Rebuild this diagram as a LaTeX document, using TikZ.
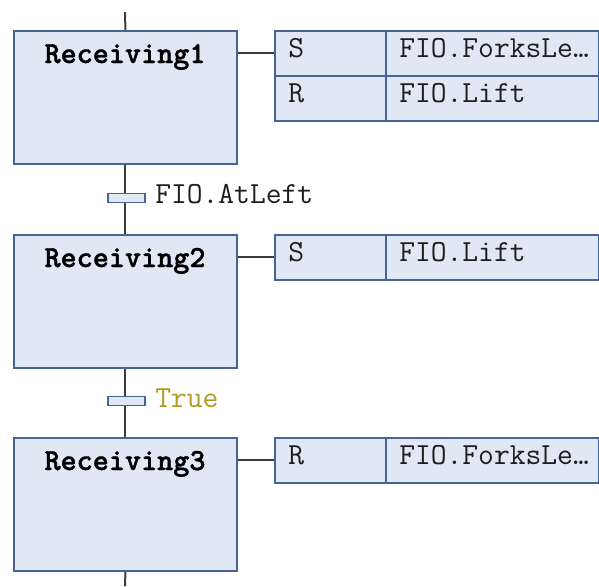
\documentclass[tikz,border=0pt]{standalone}
\usepackage{fontspec}
\newfontfamily\stepfont{lmmonolt10-bold.otf}[FakeBold=1.2]
\definecolor{sfcfill}{RGB}{225,232,245}
\definecolor{sfcblue}{RGB}{72,100,150}
\definecolor{linegray}{RGB}{60,60,60}
\definecolor{truecol}{RGB}{176,156,36}
\definecolor{txtcol}{RGB}{30,30,30}
\begin{document}
\begin{tikzpicture}[x=0.75pt,y=-0.75pt]
\tikzset{
  sfcline/.style={draw=linegray, line width=1.5pt},
  stepbox/.style={rectangle, draw=sfcblue, fill=sfcfill, line width=1.4pt,
    anchor=north west, inner sep=0pt, minimum width=167.25pt, minimum height=99.75pt},
  qualcell/.style={rectangle, draw=sfcblue, fill=sfcfill, line width=1.2pt,
    anchor=north west, inner sep=0pt, minimum width=83.25pt, minimum height=33.75pt},
  actcell/.style={rectangle, draw=sfcblue, fill=sfcfill, line width=1.2pt,
    anchor=north west, inner sep=0pt, minimum width=159.75pt, minimum height=33.75pt},
  transbar/.style={rectangle, draw=sfcblue, fill=sfcfill, line width=1.2pt,
    inner sep=0pt, minimum width=27.75pt, minimum height=6.75pt},
  stepname/.style={anchor=base, inner sep=0pt, text=black,
    font=\stepfont\fontsize{23}{27}\selectfont},
  celltext/.style={anchor=base west, inner sep=0pt, text=txtcol,
    font=\ttfamily\fontsize{23}{27}\selectfont},
}
\useasboundingbox (0,0) rectangle (599,586);

% steps
\node[stepbox] (r1) at (13,30) {};
\node[stepbox] (r2) at (13,234) {};
\node[stepbox] (r3) at (13,437) {};
\node[stepname] (n1) at (125,63) {Receiving1};
\node[stepname] (n2) at (125,267) {Receiving2};
\node[stepname] (n3) at (125,470) {Receiving3};

% transitions
\coordinate (in) at (125,12);
\coordinate (out) at (125,586);
\node[transbar] (t1) at (126.5,198) {};
\node[transbar] (t2) at (126.5,401) {};
\node[celltext] (c1) at (155,203) {FIO.AtLeft};
\node[celltext, text=truecol] (c2) at (155,407) {True};

% action tables
\node[qualcell] (a1q1) at (274,30) {};
\node[actcell]  (a1a1) at (385,30) {};
\node[qualcell] (a1q2) at (274,75) {};
\node[actcell]  (a1a2) at (385,75) {};
\node[qualcell] (a2q1) at (274,234) {};
\node[actcell]  (a2a1) at (385,234) {};
\node[qualcell] (a3q1) at (274,437) {};
\node[actcell]  (a3a1) at (385,437) {};

\node[celltext] (q11) at (288,57.5) {S};
\node[celltext] (v11) at (399,57.5) {FIO.ForksLe…};
\node[celltext] (q12) at (288,102.5) {R};
\node[celltext] (v12) at (399,102.5) {FIO.Lift};
\node[celltext] (q21) at (288,261.5) {S};
\node[celltext] (v21) at (399,261.5) {FIO.Lift};
\node[celltext] (q31) at (288,464.5) {R};
\node[celltext] (v31) at (399,464.5) {FIO.ForksLe…};

% sequence line
\draw[sfcline] (in) -- (r1.north);
\draw[sfcline] (r1.south) -- (t1.north -| r1.south);
\draw[sfcline] (t1.south -| r1.south) -- (r2.north);
\draw[sfcline] (r2.south) -- (t2.north -| r2.south);
\draw[sfcline] (t2.south -| r2.south) -- (r3.north);
\draw[sfcline] (r3.south) -- (out);

% step to action links
\draw[sfcline] (r1.east |- a1q1.west) -- (a1q1.west);
\draw[sfcline] (r2.east |- a2q1.west) -- (a2q1.west);
\draw[sfcline] (r3.east |- a3q1.west) -- (a3q1.west);
\end{tikzpicture}
\end{document}
